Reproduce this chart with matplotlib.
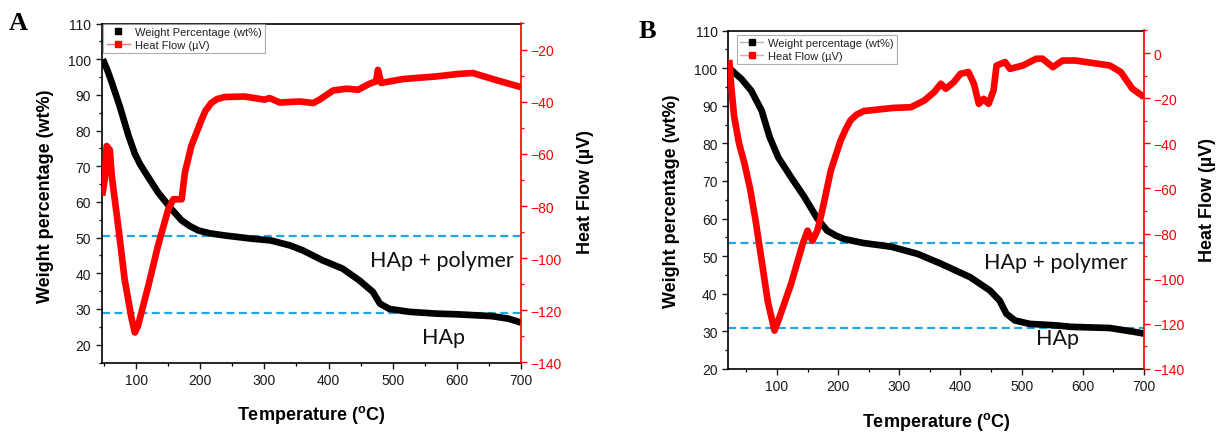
import matplotlib
matplotlib.use("Agg")
import matplotlib.pyplot as plt
from matplotlib.lines import Line2D
from matplotlib.ticker import MultipleLocator

plt.rcParams['font.family'] = ['Liberation Sans', 'DejaVu Sans']
plt.rcParams['mathtext.fontset'] = 'custom'
plt.rcParams['mathtext.rm'] = 'Liberation Sans:bold'
plt.rcParams['mathtext.bf'] = 'Liberation Sans:bold'

# ---------------- Sample A ----------------
temp_w_a = [48, 55, 62, 75, 88, 98, 106, 114, 134, 155, 171, 184, 197, 215, 238,
            280, 310, 340, 360, 391, 422, 448, 469, 480, 495, 526, 568, 601,
            654, 680, 700]
weight_a = [100.0, 97.0, 93.5, 86.5, 78.6, 73.5, 70.6, 68.3, 62.7, 58.0, 54.8,
            53.2, 52.0, 51.2, 50.6, 49.7, 49.2, 47.8, 46.4, 43.6, 41.3, 38.0,
            34.8, 31.5, 30.0, 29.2, 28.7, 28.5, 28.0, 27.3, 26.2]

temp_h_a = [47, 51, 54, 59, 62, 72, 82, 93, 98, 103, 119, 134, 150, 158, 171,
            176, 186, 202, 208, 217, 226, 238, 269, 300, 308, 324, 355, 376,
            386, 407, 428, 446, 464, 474, 477, 482, 516, 568, 604, 625, 660, 700]
heat_a = [-76.0, -69.8, -57.0, -58.5, -68.5, -87.6, -108.0, -123.3, -128.5,
          -125.8, -110.6, -95.3, -81.3, -77.4, -77.4, -67.2, -57.0, -46.9,
          -43.5, -40.5, -39.0, -38.2, -38.0, -39.2, -38.6, -40.3, -39.9, -40.5,
          -39.2, -35.7, -35.0, -35.4, -33.1, -32.2, -27.8, -32.8, -31.3, -30.3,
          -29.3, -29.0, -31.6, -34.4]

levels_a = [50.4, 29.0]

# ---------------- Sample B ----------------
temp_w_b = [22, 42, 58, 75, 88, 102, 123, 145, 166, 182, 196, 209, 241, 287,
            330, 368, 416, 448, 464, 475, 489, 513, 556, 582, 644, 687, 700]
weight_b = [100.0, 97.1, 94.0, 88.7, 81.7, 76.3, 71.0, 65.7, 60.0, 56.8, 55.5,
            54.6, 53.5, 52.5, 50.6, 48.0, 44.4, 40.9, 38.2, 34.7, 32.9, 32.0,
            31.6, 31.2, 30.9, 29.8, 29.4]

temp_h_b = [22, 25, 30, 38, 47, 56, 65, 75, 85, 96, 104, 123, 142, 150, 158,
            166, 174, 188, 204, 212, 220, 230, 242, 290, 319, 341, 357, 368,
            376, 389, 400, 413, 422, 430, 438, 446, 454, 459, 473, 481, 502,
            524, 534, 551, 567, 588, 644, 662, 681, 700]
heat_b = [-3.0, -14.0, -28.0, -40.0, -49.0, -60.0, -74.0, -92.0, -110.0,
          -123.0, -117.2, -102.4, -84.6, -78.7, -83.2, -78.7, -69.9, -52.1,
          -38.8, -34.0, -29.9, -27.3, -25.7, -24.3, -24.0, -21.0, -17.3, -13.6,
          -15.8, -12.9, -9.2, -8.4, -13.6, -22.5, -20.3, -22.5, -16.6, -5.5,
          -4.0, -7.0, -5.5, -2.5, -2.5, -6.2, -3.3, -3.3, -5.5, -8.4, -15.8,
          -19.5]

levels_b = [53.6, 30.9]

DPI = 100
W_PX, H_PX = 1225, 435
fig = plt.figure(figsize=(W_PX / DPI, H_PX / DPI), dpi=DPI)

RED = '#ff0000'
BLUE = '#22a6df'
LW = 4.8


def px_box(left, top, right, bottom):
    return [left / W_PX, 1 - bottom / H_PX, (right - left) / W_PX, (bottom - top) / H_PX]


def style_axes(ax, axr):
    for s in ['left', 'bottom', 'top']:
        ax.spines[s].set_linewidth(1.2)
    ax.spines['right'].set_visible(False)
    axr.spines['right'].set_color(RED)
    axr.spines['right'].set_linewidth(1.2)
    for s in ['left', 'bottom', 'top']:
        axr.spines[s].set_visible(False)
    ax.xaxis.set_major_locator(MultipleLocator(100))
    ax.xaxis.set_minor_locator(MultipleLocator(50))
    ax.yaxis.set_major_locator(MultipleLocator(10))
    ax.yaxis.set_minor_locator(MultipleLocator(5))
    axr.yaxis.set_major_locator(MultipleLocator(20))
    axr.yaxis.set_minor_locator(MultipleLocator(10))
    ax.tick_params(which='major', direction='out', length=4.5, width=1.0,
                   labelsize=10, pad=3.0, colors='#1a1a1a', top=False, right=False)
    ax.tick_params(which='minor', direction='out', length=2.5, width=0.9,
                   top=False, right=False)
    axr.tick_params(which='major', direction='out', length=4.5, width=1.0,
                    labelsize=10, pad=2.0, colors=RED)
    axr.tick_params(which='minor', direction='out', length=2.5, width=0.9,
                    colors=RED)


def panel(box, xlim, ylim, ylim_r, tw, w, th, h, levels, txt_poly, txt_hap,
          legend_labels, legend_line_colors, legend_loc):
    ax = fig.add_axes(box)
    axr = ax.twinx()
    for lv in levels:
        ax.axhline(lv, color=BLUE, lw=1.6, ls=(0, (3.6, 2.0)), zorder=1)
    ax.plot(tw, w, color='black', lw=LW, solid_capstyle='butt',
            solid_joinstyle='round', zorder=2)
    axr.plot(th, h, color=RED, lw=LW, solid_capstyle='butt',
             solid_joinstyle='round', zorder=2)
    ax.set_xlim(*xlim)
    ax.set_ylim(*ylim)
    axr.set_ylim(*ylim_r)
    style_axes(ax, axr)
    ax.text(txt_poly[0], txt_poly[1], 'HAp + polymer', family='Lato',
            fontsize=15.5, ha='center', va='center', color='#111111', zorder=3)
    ax.text(txt_hap[0], txt_hap[1], 'HAp', family='Lato',
            fontsize=15.5, ha='center', va='center', color='#111111', zorder=3)

    handles = []
    for col, lc, marker_only in zip(['black', RED], legend_line_colors,
                                    [legend_line_colors[0] is None, False]):
        if marker_only:
            handles.append(Line2D([], [], color=col, marker='s', ms=5, ls='none'))
        else:
            handles.append(Line2D([], [], color=lc, lw=1.0, marker='s', ms=5,
                                  markerfacecolor=col, markeredgecolor=col))
    leg = axr.legend(handles, legend_labels, loc='upper left',
                     bbox_to_anchor=legend_loc, fontsize=8, frameon=True,
                     fancybox=False, edgecolor='#9a9a9a', handlelength=2.1,
                     handletextpad=0.45, borderpad=0.3, labelspacing=0.25,
                     borderaxespad=0.0)
    leg.get_frame().set_linewidth(0.8)
    for t in leg.get_texts():
        t.set_color('#222222')
    return ax, axr


# Panel A
panel(px_box(101.5, 24.5, 521, 363.5), (46, 700), (15, 110), (-140, -10),
      temp_w_a, weight_a, temp_h_a, heat_a, levels_a, (577, 43.6), (579, 22.2),
      ['Weight Percentage (wt%)', 'Heat Flow (\u00b5V)'],
      [None, '#ee7a7a'], (0.004, 1.0))

# Panel B
panel(px_box(728, 31.5, 1144, 370), (20, 700), (20, 110), (-140, 10),
      temp_w_b, weight_b, temp_h_b, heat_b, levels_b, (556, 48.4), (559, 28.3),
      ['Weight percentage (wt%)', 'Heat Flow (\u00b5V)'],
      ['#b5b5b5', '#f2a0a0'], (0.021, 0.988))

# Axis titles
lab = dict(fontsize=13, fontweight='bold', color='black', ha='center', va='center')
xlab = r'Temperature ($^{\mathrm{o}}$C)'
fig.text(311 / W_PX, 1 - 415 / H_PX, xlab, **lab)
fig.text(936 / W_PX, 1 - 422 / H_PX, xlab, **lab)
fig.text(45.8 / W_PX, 1 - 196 / H_PX, 'Weight percentage (wt%)', rotation=90, **lab)
fig.text(671.5 / W_PX, 1 - 201 / H_PX, 'Weight percentage (wt%)', rotation=90, **lab)
fig.text(585 / W_PX, 1 - 192 / H_PX, 'Heat Flow (\u00b5V)', rotation=90, **lab)
fig.text(1208 / W_PX, 1 - 200 / H_PX, 'Heat Flow (\u00b5V)', rotation=90, **lab)

# Panel letters
fig.text(18 / W_PX, 1 - 24 / H_PX, 'A', family='Liberation Serif', fontweight='bold',
         fontsize=19, ha='center', va='center')
fig.text(647.5 / W_PX, 1 - 31.7 / H_PX, 'B', family='Liberation Serif', fontweight='bold',
         fontsize=19, ha='center', va='center')

fig.savefig('out.png', dpi=DPI)
